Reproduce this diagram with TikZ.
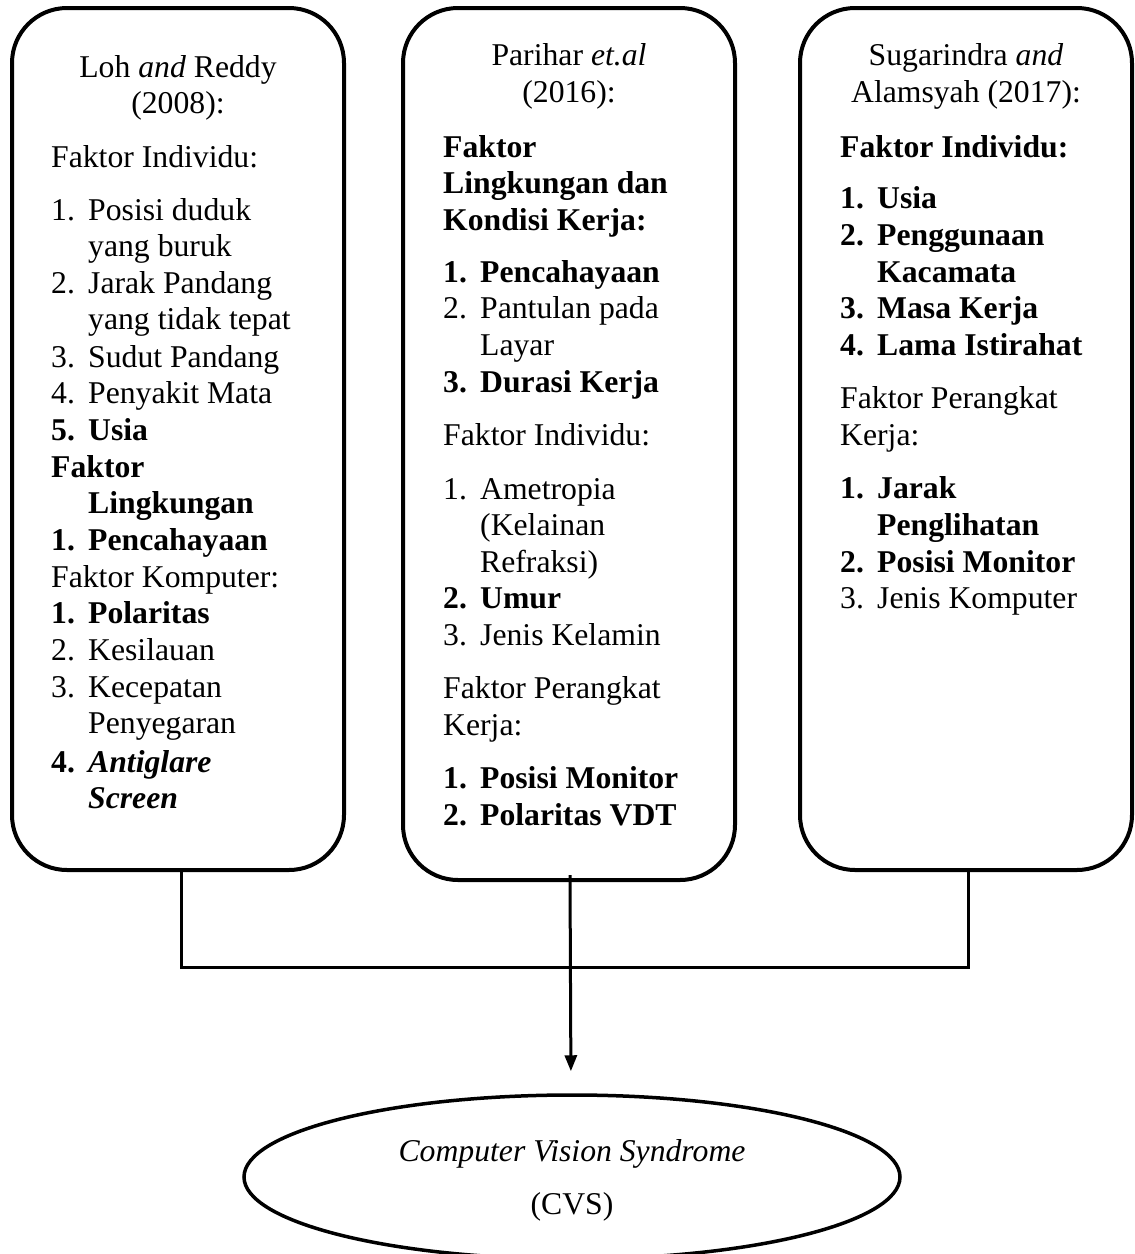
\documentclass[tikz,border=0pt]{standalone}
\usepackage{fontspec}
\setmainfont{Liberation Serif}
\usetikzlibrary{shapes.geometric,arrows.meta}
\newcommand\mainfs{\fontsize{31.7}{36.6}\selectfont}
\newcommand\NumItem[2]{\makebox[37pt][l]{#1}#2}
\tikzset{
  stagebox/.style={draw, line width=4pt, rounded corners=55pt, minimum width=332pt, inner sep=0pt},
  txt/.style={anchor=base west, inner sep=0pt, font=\mainfs},
  ctr/.style={anchor=base, inner sep=0pt, font=\mainfs},
  conn/.style={line width=3pt},
  arr/.style={line width=3pt, -{Triangle[length=16pt,width=12pt]}}
}
\begin{document}
\begin{tikzpicture}[x=1pt,y=-1pt]
\useasboundingbox (0,0) rectangle (1135,1254);
% boxes
\node[stagebox, minimum height=862pt] (b1) at (178,439) {};
\node[stagebox, minimum height=872pt] (b2) at (569,444) {};
\node[stagebox, minimum height=862pt] (b3) at (966,439) {};

% box 1
\node[ctr] (t1a) at (178,77) {Loh \textit{and} Reddy};
\node[ctr] (t1b) at (178,113) {(2008):};
\node[txt] (t1c) at (51,167) {Faktor Individu:};
\node[txt] (t1d) at (51,220) {\NumItem{1.}{Posisi duduk}};
\node[txt] (t1e) at (88,256) {yang buruk};
\node[txt] (t1f) at (51,293) {\NumItem{2.}{Jarak Pandang}};
\node[txt] (t1g) at (88,329) {yang tidak tepat};
\node[txt] (t1h) at (51,367) {\NumItem{3.}{Sudut Pandang}};
\node[txt] (t1i) at (51,403) {\NumItem{4.}{Penyakit Mata}};
\node[txt] (t1j) at (51,440) {\bfseries\NumItem{5.}{Usia}};
\node[txt] (t1k) at (51,477) {\bfseries Faktor};
\node[txt] (t1l) at (88,513) {\bfseries Lingkungan};
\node[txt] (t1m) at (51,550) {\bfseries\NumItem{1.}{Pencahayaan}};
\node[txt] (t1n) at (51,587) {Faktor Komputer:};
\node[txt] (t1o) at (51,623) {\bfseries\NumItem{1.}{Polaritas}};
\node[txt] (t1p) at (51,660) {\NumItem{2.}{Kesilauan}};
\node[txt] (t1q) at (51,697) {\NumItem{3.}{Kecepatan}};
\node[txt] (t1r) at (88,733) {Penyegaran};
\node[txt] (t1s) at (51,772) {\bfseries\NumItem{4.}{\itshape Antiglare}};
\node[txt] (t1t) at (88,808) {\bfseries\itshape Screen};

% box 2
\node[ctr] (t2a) at (569,65) {Parihar \textit{et.al}};
\node[ctr] (t2b) at (569,102) {(2016):};
\node[txt] (t2c) at (443,157) {\bfseries Faktor};
\node[txt] (t2d) at (443,193) {\bfseries Lingkungan dan};
\node[txt] (t2e) at (443,230) {\bfseries Kondisi Kerja:};
\node[txt] (t2f) at (443,282) {\bfseries\NumItem{1.}{Pencahayaan}};
\node[txt] (t2g) at (443,318) {\NumItem{2.}{Pantulan pada}};
\node[txt] (t2h) at (480,355) {Layar};
\node[txt] (t2i) at (443,392) {\bfseries\NumItem{3.}{Durasi Kerja}};
\node[txt] (t2j) at (443,445) {Faktor Individu:};
\node[txt] (t2k) at (443,499) {\NumItem{1.}{Ametropia}};
\node[txt] (t2l) at (480,535) {(Kelainan};
\node[txt] (t2m) at (480,572) {Refraksi)};
\node[txt] (t2n) at (443,608) {\bfseries\NumItem{2.}{Umur}};
\node[txt] (t2o) at (443,645) {\NumItem{3.}{Jenis Kelamin}};
\node[txt] (t2p) at (443,698) {Faktor Perangkat};
\node[txt] (t2q) at (443,735) {Kerja:};
\node[txt] (t2r) at (443,788) {\bfseries\NumItem{1.}{Posisi Monitor}};
\node[txt] (t2s) at (443,825) {\bfseries\NumItem{2.}{Polaritas VDT}};

% box 3
\node[ctr] (t3a) at (966,65) {Sugarindra \textit{and}};
\node[ctr] (t3b) at (966,102) {Alamsyah (2017):};
\node[txt] (t3c) at (840,157) {\bfseries Faktor Individu:};
\node[txt] (t3d) at (840,208) {\bfseries\NumItem{1.}{Usia}};
\node[txt] (t3e) at (840,245) {\bfseries\NumItem{2.}{Penggunaan}};
\node[txt] (t3f) at (877,282) {\bfseries Kacamata};
\node[txt] (t3g) at (840,318) {\bfseries\NumItem{3.}{Masa Kerja}};
\node[txt] (t3h) at (840,355) {\bfseries\NumItem{4.}{Lama Istirahat}};
\node[txt] (t3i) at (840,408) {Faktor Perangkat};
\node[txt] (t3j) at (840,445) {Kerja:};
\node[txt] (t3k) at (840,498) {\bfseries\NumItem{1.}{Jarak}};
\node[txt] (t3l) at (877,535) {\bfseries Penglihatan};
\node[txt] (t3m) at (840,572) {\bfseries\NumItem{2.}{Posisi Monitor}};
\node[txt] (t3n) at (840,608) {\NumItem{3.}{Jenis Komputer}};

% CVS ellipse
\begin{scope}
\clip (0,0) rectangle (1135,1254);
\node[draw, ellipse, line width=3.5pt, minimum width=656pt, minimum height=164pt, inner sep=0pt] (cvs) at (572,1177) {};
\end{scope}
\node[ctr] (cvsa) at (572,1161) {\itshape Computer Vision Syndrome};
\node[ctr] (cvsb) at (572,1214) {(CVS)};

% connectors
\coordinate (join) at (572,967);
\draw[conn] ([xshift=3pt]b1.south) |- (join) -| ([xshift=2pt]b3.south);
\draw[arr] ([xshift=1pt,yshift=7pt]b2.south) -- ([xshift=-1pt]cvs.north) [shorten >=22pt];
\end{tikzpicture}
\end{document}
